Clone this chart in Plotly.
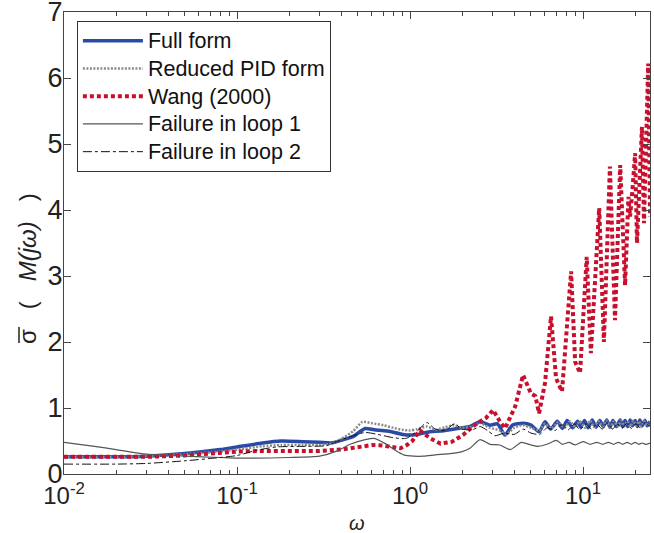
import plotly.graph_objects as go

# ---------------- data ----------------
full_w = [0.01, 0.02, 0.03, 0.05, 0.08, 0.1, 0.14, 0.18, 0.24, 0.3, 0.35, 0.4, 0.47, 0.55, 0.62,
          0.74, 0.87, 0.96, 1.1, 1.3, 1.5, 1.7, 2.0, 2.22, 2.54, 2.9, 3.2, 3.54, 3.9, 4.5, 5.0,
          5.57, 6.03, 6.5, 7.1, 7.6, 8.1, 8.7, 9.3, 9.7, 10.2, 10.7, 11.3, 11.9, 12.5, 13.1,
          13.7, 14.3, 14.9, 15.6, 16.4, 16.9, 17.5, 18.1, 18.7, 19.3, 20.0, 20.6, 21.3, 22.0,
          22.8, 23.5, 24.4]
full_s = [0.26, 0.26, 0.27, 0.31, 0.37, 0.41, 0.47, 0.50, 0.49, 0.48, 0.47, 0.51, 0.57, 0.69, 0.67,
          0.65, 0.61, 0.59, 0.60, 0.64, 0.65, 0.67, 0.70, 0.72, 0.79, 0.74, 0.76, 0.59, 0.74, 0.77, 0.74,
          0.64, 0.79, 0.68, 0.80, 0.69, 0.81, 0.70, 0.80, 0.71, 0.81, 0.70, 0.82, 0.71, 0.81, 0.72,
          0.82, 0.71, 0.81, 0.72, 0.82, 0.72, 0.81, 0.72, 0.82, 0.73, 0.81, 0.72, 0.82, 0.73,
          0.81, 0.73, 0.80]

pid_w = [0.01, 0.02, 0.03, 0.05, 0.08, 0.1, 0.14, 0.18, 0.24, 0.3, 0.35, 0.4, 0.47, 0.53, 0.6,
         0.7, 0.8, 0.9, 1.0, 1.1, 1.25, 1.4, 1.6, 1.8, 2.0, 2.3, 2.54, 2.9, 3.3, 3.6, 4.0, 4.5,
         5.0, 5.6, 6.0, 6.6, 7.2, 7.8, 8.4, 9.0, 9.6, 10.3, 11.0, 11.6, 12.3, 13.0, 13.6, 14.4,
         15.1, 15.9, 16.6, 17.3, 18.0, 18.8, 19.5, 20.3, 21.0, 21.8, 22.6, 23.4, 24.4]
pid_s = [0.26, 0.26, 0.27, 0.30, 0.34, 0.37, 0.42, 0.44, 0.44, 0.44, 0.46, 0.53, 0.65, 0.79, 0.77,
         0.74, 0.70, 0.67, 0.66, 0.68, 0.72, 0.67, 0.71, 0.74, 0.70, 0.72, 0.77, 0.70, 0.66, 0.60, 0.70, 0.74,
         0.70, 0.66, 0.76, 0.69, 0.79, 0.70, 0.80, 0.71, 0.80, 0.70, 0.81, 0.71, 0.80, 0.72,
         0.81, 0.71, 0.80, 0.72, 0.81, 0.72, 0.80, 0.72, 0.81, 0.73, 0.80, 0.72, 0.80, 0.73, 0.79]

wang_w = [0.01, 0.02, 0.03, 0.05, 0.08, 0.1, 0.14, 0.2, 0.3, 0.4, 0.47, 0.55, 0.61, 0.7, 0.8,
          0.88, 0.96, 1.03, 1.14, 1.22, 1.31, 1.5, 1.75, 2.02, 2.44, 2.75, 3.02, 3.3, 3.54, 4.05,
          4.5, 5.0, 5.3, 5.57, 6.03, 6.53, 6.98, 7.56, 8.09, 8.53, 9.0, 9.61, 10.5, 11.1, 12.4,
          13.2, 14.3, 15.3, 16.4, 17.5, 18.3, 18.7, 19.3, 20.0, 20.5, 21.2, 21.9, 22.5, 23.2,
          23.8, 24.4]
wang_s = [0.26, 0.26, 0.26, 0.28, 0.32, 0.34, 0.35, 0.35, 0.35, 0.37, 0.40, 0.43, 0.44, 0.43, 0.40,
          0.39, 0.44, 0.50, 0.66, 0.60, 0.54, 0.46, 0.49, 0.59, 0.77, 0.85, 0.97, 0.80, 0.69, 1.02,
          1.50, 1.22, 1.18, 0.92, 1.38, 2.39, 1.45, 1.25, 2.18, 3.07, 1.70, 1.53, 3.29, 1.83, 4.03,
          2.00, 4.66, 2.33, 4.68, 2.86, 4.20, 3.90, 4.30, 4.86, 3.50, 4.50, 5.26, 3.80, 5.00,
          6.22, 3.90]

loop1_w = [0.01, 0.015, 0.02, 0.03, 0.05, 0.08, 0.1, 0.2, 0.3, 0.38, 0.45, 0.55, 0.62, 0.72, 0.82,
           0.92, 1.05, 1.2, 1.4, 1.7, 2.0, 2.22, 2.54, 2.9, 3.3, 3.8, 4.4, 5.0, 5.5, 6.2, 7.0,
           7.6, 8.3, 9.0, 10.0, 11.0, 12.0, 13.0, 14.0, 15.0, 16.0, 17.0, 18.0, 19.0, 20.0,
           21.0, 22.0, 23.0, 24.4]
loop1_s = [0.48, 0.42, 0.37, 0.30, 0.27, 0.25, 0.24, 0.25, 0.27, 0.35, 0.45, 0.52, 0.54, 0.46, 0.36,
           0.29, 0.27, 0.27, 0.29, 0.31, 0.34, 0.39, 0.52, 0.45, 0.44, 0.37, 0.48, 0.44, 0.42, 0.45, 0.51,
           0.45, 0.48, 0.44, 0.49, 0.45, 0.48, 0.45, 0.48, 0.45, 0.48, 0.45, 0.48, 0.45, 0.48,
           0.45, 0.47, 0.45, 0.47]

loop2_w = [0.01, 0.02, 0.03, 0.05, 0.08, 0.1, 0.13, 0.17, 0.25, 0.33, 0.4, 0.47, 0.55, 0.65, 0.8,
           0.95, 1.1, 1.25, 1.4, 1.6, 1.8, 2.0, 2.3, 2.54, 2.8, 3.1, 3.5, 4.0, 4.5, 5.0, 5.6,
           6.2, 6.9, 7.5, 8.2, 8.9, 9.6, 10.4, 11.2, 12.0, 12.9, 13.8, 14.8, 15.8, 16.8, 17.9,
           19.0, 20.2, 21.4, 22.7, 24.4]
loop2_s = [0.15, 0.15, 0.16, 0.20, 0.25, 0.28, 0.36, 0.41, 0.42, 0.43, 0.52, 0.58, 0.63, 0.60, 0.55,
           0.54, 0.65, 0.78, 0.68, 0.66, 0.76, 0.68, 0.67, 0.72, 0.66, 0.58, 0.62, 0.60, 0.68, 0.62, 0.60,
           0.70, 0.66, 0.75, 0.67, 0.76, 0.67, 0.76, 0.68, 0.76, 0.68, 0.77, 0.68, 0.76, 0.69, 0.77,
           0.69, 0.76, 0.70, 0.77, 0.72]

series_names = ["Full form", "Reduced PID form", "Wang (2000)", "Failure in loop 1", "Failure in loop 2"]

x_major = [0.01, 0.1, 1, 10]
x_major_text = ["10<sup>-2</sup>", "10<sup>-1</sup>", "10<sup>0</sup>", "10<sup>1</sup>"]
x_minor = [m * d for d in (0.01, 0.1, 1, 10) for m in range(2, 10)]
y_ticks = [0, 1, 2, 3, 4, 5, 6, 7]

FONT = "Liberation Sans, Arial, sans-serif"


def nm(s):
    return '<span style="font-size:21.5px">' + s + '</span>'


fig = go.Figure()
fig.add_trace(go.Scatter(x=full_w, y=full_s, mode="lines", name=nm(series_names[0]),
                         line=dict(color="#2a4aa8", width=3.5, shape="spline", smoothing=0.6)))
fig.add_trace(go.Scatter(x=pid_w, y=pid_s, mode="lines", name=nm(series_names[1]),
                         line=dict(color="#8a8a8a", width=2.5, dash="2px,1.5px", shape="spline", smoothing=0.6)))
fig.add_trace(go.Scatter(x=wang_w, y=wang_s, mode="lines", name=nm(series_names[2]),
                         line=dict(color="#c8102e", width=4, dash="4px,3px")))
fig.add_trace(go.Scatter(x=loop1_w, y=loop1_s, mode="lines", name=nm(series_names[3]),
                         line=dict(color="#555555", width=1.2, shape="spline", smoothing=0.6)))
fig.add_trace(go.Scatter(x=loop2_w, y=loop2_s, mode="lines", name=nm(series_names[4]),
                         line=dict(color="#111111", width=1, dash="dashdot", shape="spline", smoothing=0.6)))

axis_common = dict(showline=True, linecolor="#444", linewidth=1, mirror="ticks",
                   ticks="inside", tickcolor="#444", showgrid=False, zeroline=False,
                   automargin=False, ticklabeloverflow="allow")

fig.update_xaxes(type="log", range=[-2, 1.387], tickmode="array", tickvals=x_major,
                 ticktext=x_major_text, ticklen=7,
                 tickfont=dict(family=FONT, size=24, color="#222"),
                 minor=dict(ticks="inside", ticklen=4, tickcolor="#444",
                            tickmode="array", tickvals=x_minor, showgrid=False),
                 **axis_common)
fig.update_yaxes(range=[0, 7.0005], tickmode="array", tickvals=y_ticks, ticklen=7,
                 tickfont=dict(family=FONT, size=27, color="#222"), ticklabelstandoff=-5,
                 **axis_common)

NB = "\u00a0"
fig.add_annotation(text="σ" + NB * 3 + "(" + NB * 3 + "<i>M(jω)</i>" + NB * 3 + ")",
                   xref="paper", yref="paper",
                   x=-0.063, y=0.4437, xanchor="center", yanchor="middle", textangle=-90,
                   showarrow=False, font=dict(family=FONT, size=24, color="#222"))
# overline of the sigma
fig.add_shape(type="line", xref="paper", yref="paper",
              x0=-0.0768, x1=-0.0768, y0=0.2835, y1=0.318,
              line=dict(color="#222", width=1.5))
fig.add_annotation(text="<i>ω</i>", xref="paper", yref="paper",
                   x=0.5, y=-0.105, xanchor="center", yanchor="middle",
                   showarrow=False, font=dict(family=FONT, size=20, color="#222"))

fig.update_layout(
    width=654, height=533,
    margin=dict(l=64, r=4, t=12, b=59),
    paper_bgcolor="white", plot_bgcolor="white",
    showlegend=True,
    legend=dict(x=0.022, y=0.9805, xanchor="left", yanchor="top",
                bgcolor="white", bordercolor="#333", borderwidth=1,
                font=dict(family=FONT, size=19, color="#111"),
                itemwidth=60, tracegroupgap=0),
)

# remove the default 8 px page margin so the figure sits at the window's corner
fig.write_html("out.html", config={"displayModeBar": False},
               post_script="document.body.style.margin='0px';")
